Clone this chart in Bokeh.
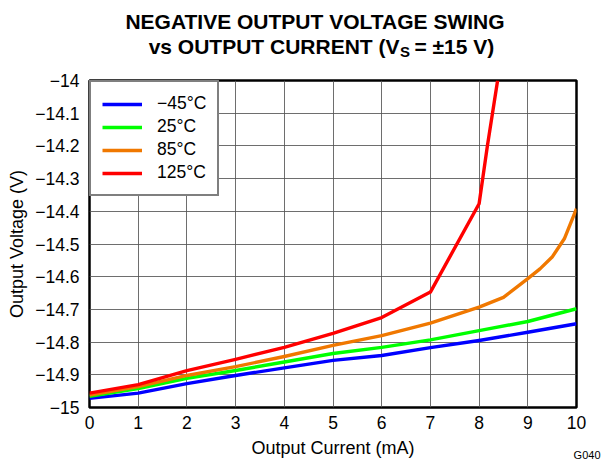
from bokeh.plotting import figure
from bokeh.models import FixedTicker, Range1d, Legend, LegendItem
from bokeh.layouts import column
from bokeh.core.properties import value
from bokeh.embed import file_html
from bokeh.resources import INLINE

# ---- data ----
current = [0, 1, 2, 3, 4, 5, 6, 7, 8, 9, 10]
v_m45 = [-14.972, -14.956, -14.927, -14.902, -14.879, -14.856, -14.841, -14.817, -14.795, -14.770, -14.744]
v_25 = [-14.966, -14.942, -14.911, -14.887, -14.861, -14.835, -14.816, -14.793, -14.765, -14.737, -14.698]
current_85 = [0, 1, 2, 3, 4, 5, 6, 7, 8, 8.5, 9, 9.25, 9.5, 9.75, 10]
v_85 = [-14.962, -14.936, -14.902, -14.875, -14.844, -14.810, -14.780, -14.742, -14.693, -14.663,
        -14.606, -14.576, -14.540, -14.484, -14.392]
current_125 = [0, 1, 2, 3, 4, 5, 6, 7, 8, 8.17, 8.38]
v_125 = [-14.956, -14.930, -14.887, -14.853, -14.816, -14.773, -14.725, -14.647, -14.377, -14.200, -14.0]

series_names = ["\u221245\u00b0C", "25\u00b0C", "85\u00b0C", "125\u00b0C"]
series_colors = ["#0000FF", "#00FF00", "#F07800", "#FF0000"]

x_ticks = [0, 1, 2, 3, 4, 5, 6, 7, 8, 9, 10]
y_ticks = [-15, -14.9, -14.8, -14.7, -14.6, -14.5, -14.4, -14.3, -14.2, -14.1, -14]
y_tick_labels = ["\u221215", "\u221214.9", "\u221214.8", "\u221214.7", "\u221214.6", "\u221214.5",
                 "\u221214.4", "\u221214.3", "\u221214.2", "\u221214.1", "\u221214"]

title_line1 = "NEGATIVE OUTPUT VOLTAGE SWING"
title_line2_a = "vs OUTPUT CURRENT (V"
title_line2_sub = "S"
title_line2_b = "= \u00b115 V)"
x_label = "Output Current (mA)"
y_label = "Output Voltage (V)"
tag = "G040"

FONT = "Liberation Sans"
W = 608
H_HEAD, H_MAIN, H_FOOT = 70, 368, 26


def text_panel(height):
    f = figure(width=W, height=height, output_backend="svg", toolbar_location=None,
               x_range=Range1d(0, W), y_range=Range1d(height, 0),
               x_axis_type=None, y_axis_type=None, min_border=0,
               min_border_left=0, min_border_right=0, min_border_top=0, min_border_bottom=0)
    f.frame_align = False
    f.outline_line_color = None
    f.background_fill_color = "white"
    f.border_fill_color = "white"
    f.xgrid.visible = False
    f.ygrid.visible = False
    return f


def put(f, txt, x, y, size, align, bold=False):
    f.text(x=[x], y=[y], text=[txt], text_font=value(FONT), text_font_size=value(size),
           text_font_style="bold" if bold else "normal",
           text_align=align, text_baseline="middle", text_color="black")


# ---- header (title) ----
head = text_panel(H_HEAD)
put(head, title_line1, 314.5, 20.5, "21px", "center", bold=True)
put(head, title_line2_a, 399, 46, "21px", "right", bold=True)
put(head, title_line2_sub, 399.5, 50.5, "15px", "left", bold=True)
put(head, title_line2_b, 414, 46, "21px", "left", bold=True)

# ---- main chart ----
p = figure(width=W, height=H_MAIN, output_backend="svg", toolbar_location=None,
           x_range=Range1d(0, 10), y_range=Range1d(-15, -14),
           min_border_left=89, min_border_right=32, min_border_top=10, min_border_bottom=31)
p.frame_align = False
p.background_fill_color = "white"
p.border_fill_color = "white"
p.outline_line_color = "black"
p.outline_line_width = 2.5

for ax in (p.xaxis[0], p.yaxis[0]):
    ax.axis_line_color = None
    ax.major_tick_line_color = None
    ax.minor_tick_line_color = None
    ax.major_tick_out = 0
    ax.major_tick_in = 0
    ax.minor_tick_out = 0
    ax.minor_tick_in = 0
    ax.major_label_text_font = FONT
    ax.major_label_text_font_size = "17.5px"
    ax.major_label_text_color = "black"
    ax.axis_label_text_font = FONT
    ax.axis_label_text_font_size = "18px"
    ax.axis_label_text_font_style = "normal"
    ax.axis_label_text_color = "black"

p.xaxis.ticker = FixedTicker(ticks=x_ticks)
p.yaxis.ticker = FixedTicker(ticks=y_ticks)
p.yaxis.major_label_overrides = {t: l for t, l in zip(y_ticks, y_tick_labels)}
p.yaxis.axis_label = y_label
p.xaxis.major_label_standoff = 8
p.yaxis.major_label_standoff = 10
p.yaxis.axis_label_standoff = 5

p.xgrid.grid_line_color = "#555555"
p.ygrid.grid_line_color = "#555555"
p.xgrid.grid_line_width = 1
p.ygrid.grid_line_width = 1
p.xgrid.grid_line_alpha = 0.85
p.ygrid.grid_line_alpha = 0.85

xs = [current, current, current_85, current_125]
ys = [v_m45, v_25, v_85, v_125]
renderers = []
for x, y, c in zip(xs, ys, series_colors):
    r = p.line(x, y, line_color=c, line_width=3.4, line_join="round")
    renderers.append(r)

legend = Legend(items=[LegendItem(label=n, renderers=[r]) for n, r in zip(series_names, renderers)],
                location="top_left")
legend.margin = 0
legend.padding = 11
legend.spacing = 2
legend.glyph_width = 40
legend.glyph_height = 20
legend.label_height = 20
legend.label_standoff = 15
legend.label_text_font = FONT
legend.label_text_font_size = "17.5px"
legend.label_text_color = "black"
legend.border_line_color = "black"
legend.border_line_width = 2
legend.background_fill_color = "white"
legend.background_fill_alpha = 1
p.add_layout(legend)

# ---- footer (x-axis title and tag) ----
foot = text_panel(H_FOOT)
put(foot, x_label, 332.5, 9.5, "18px", "center")
put(foot, tag, 600, 16, "11px", "right")

layout = column(head, p, foot, spacing=0)
open("out.html", "w").write(file_html(layout, INLINE))
